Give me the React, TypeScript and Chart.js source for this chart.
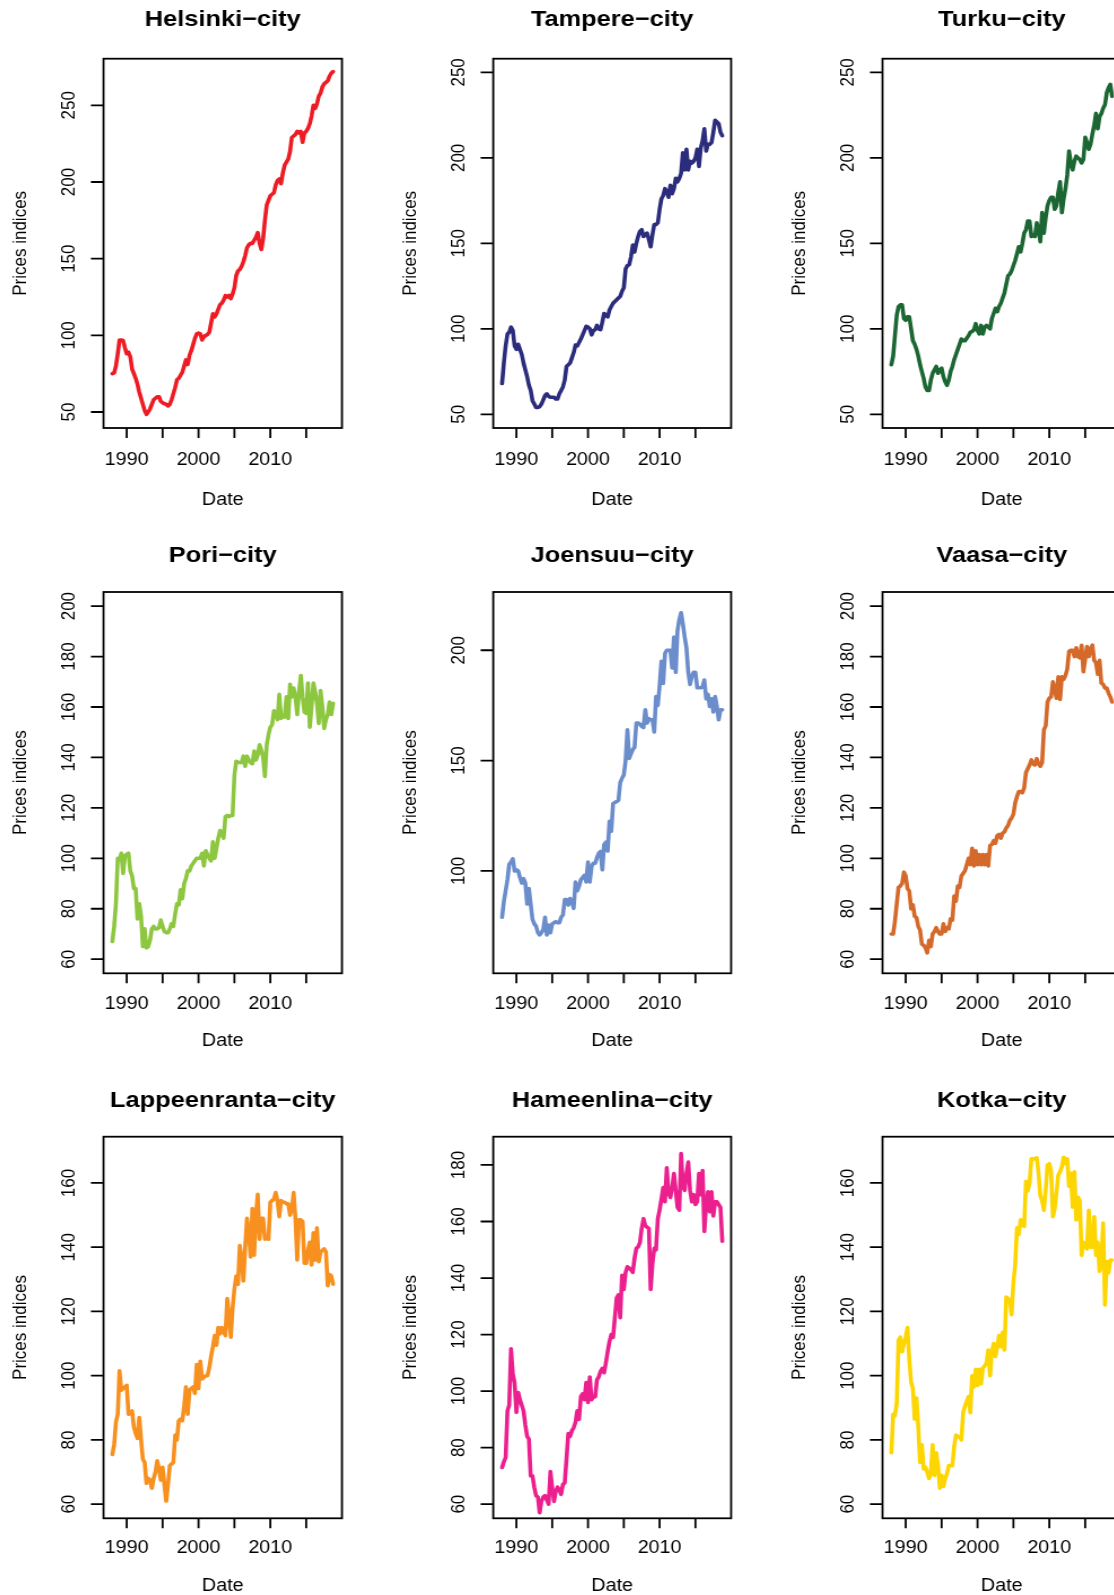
import React, { useEffect, useRef } from "react";
import { Chart, registerables } from "chart.js";

Chart.register(...registerables);

// Quarterly time index: ts(start = 1988 Q1, frequency = 4), 124 quarters
const START_YEAR = 1988;
const FREQUENCY = 4;
const N_QUARTERS = 124;
const dates: number[] = Array.from({ length: N_QUARTERS }, (_, i) => START_YEAR + i / FREQUENCY);

const xTickValues = [1990, 1995, 2000, 2005, 2010, 2015];
const xTickLabels = ["1990", "", "2000", "", "2010", ""];

const xAxisTitle = "Date";
const yAxisTitle = "Prices indices";

// ---- series values (one value per quarter, 1988 Q1 .. 2018 Q4) ----
const helsinki = [
  75, 75.5, 80, 88, // 1988
  97, 97, 96.5, 92, // 1989
  88, 89, 86, 78, // 1990
  75, 72, 68, 63, // 1991
  59, 55, 51, 48.5, // 1992
  50, 52, 55, 58, // 1993
  59, 60, 60, 57, // 1994
  56, 55.5, 55, 54, // 1995
  55, 58, 62, 66, // 1996
  71, 72, 74, 76, // 1997
  80, 84, 81, 87, // 1998
  90, 94, 98, 101, // 1999
  101.5, 101, 97, 99, // 2000
  100, 100.5, 102, 108, // 2001
  114, 112, 114, 117, // 2002
  120, 121, 123, 126, // 2003
  125, 126, 124, 127, // 2004
  131, 139, 142, 143, // 2005
  145, 148, 152, 157, // 2006
  159, 160, 160, 162, // 2007
  164, 167, 160, 156, // 2008
  163, 175, 185, 188, // 2009
  191, 192, 193, 198, // 2010
  201, 202, 199, 206, // 2011
  211, 213, 215, 220, // 2012
  229, 230, 231, 233, // 2013
  232, 233, 226, 232, // 2014
  233, 235, 238, 243, // 2015
  250, 248, 251, 256, // 2016
  258, 262, 264, 265, // 2017
  266, 269, 271, 272, // 2018
];

const tampere = [
  68, 80, 90, 97, // 1988
  98, 101, 99, 90, // 1989
  88, 91, 88, 85, // 1990
  80, 76, 72, 67, // 1991
  64, 58, 56, 54, // 1992
  54, 54.5, 56, 58.5, // 1993
  61, 62, 60.5, 60, // 1994
  60, 60, 59, 59, // 1995
  62, 64, 66, 70, // 1996
  78, 79, 80, 83, // 1997
  86, 90.5, 90, 92, // 1998
  94, 96.5, 99, 101.5, // 1999
  101, 100, 96.5, 99, // 2000
  99.5, 102, 100, 99.5, // 2001
  104, 109, 108, 107, // 2002
  111, 113, 115, 116, // 2003
  117, 118, 119, 122, // 2004
  124, 135, 137, 137.5, // 2005
  142, 149, 145, 150, // 2006
  154, 157, 158, 154, // 2007
  155, 156, 152, 148, // 2008
  155, 161, 161, 162, // 2009
  170, 176, 178, 182, // 2010
  180, 177, 184, 179, // 2011
  182, 188, 186, 188, // 2012
  191, 203, 193, 205, // 2013
  193, 198, 197, 198, // 2014
  200, 205, 195, 206, // 2015
  210, 217, 204, 208, // 2016
  208, 209, 215, 222, // 2017
  221, 220, 215, 213, // 2018
];

const turku = [
  79, 84, 96, 108, // 1988
  113, 114, 114, 106, // 1989
  105, 107, 107, 100, // 1990
  93, 91, 88, 84, // 1991
  79, 75, 71, 66, // 1992
  64, 64, 70, 74, // 1993
  76, 78, 74, 76, // 1994
  77, 72, 69, 67, // 1995
  70, 75, 78, 82, // 1996
  85, 88, 91, 94, // 1997
  93, 93, 94.5, 96, // 1998
  98, 98.5, 99.5, 103, // 1999
  99, 97, 102, 97, // 2000
  101, 102, 101, 100, // 2001
  106, 109, 112, 110, // 2002
  113, 115, 118, 121, // 2003
  126, 131, 132, 134, // 2004
  137, 140, 144, 148, // 2005
  145, 150, 156, 158, // 2006
  163, 163, 154, 155, // 2007
  154, 162, 158, 151, // 2008
  168, 156, 165, 172, // 2009
  175, 177, 177, 170, // 2010
  172, 180, 186, 168, // 2011
  176, 182, 190, 204, // 2012
  197, 193, 198, 201, // 2013
  200, 199, 197, 199, // 2014
  212, 209, 205, 208, // 2015
  214, 219, 226, 217, // 2016
  224, 226, 229, 231, // 2017
  238, 241, 243, 236, // 2018
];

const pori = [
  67, 73, 82, 100, // 1988
  99.5, 102, 94, 101, // 1989
  101.5, 102, 95, 93, // 1990
  88, 88, 76, 82, // 1991
  77, 65, 72, 64.5, // 1992
  65, 67.5, 72, 73, // 1993
  72, 72, 72.5, 75.5, // 1994
  73, 71, 70.5, 70.5, // 1995
  72, 74, 73, 78, // 1996
  82, 81.5, 87.5, 84, // 1997
  90, 92, 95, 95, // 1998
  97, 98, 99, 100, // 1999
  100, 100, 102, 97, // 2000
  103, 101.5, 100, 99, // 2001
  106.5, 100, 104, 108, // 2002
  111, 110, 108, 116.5, // 2003
  117, 116.5, 117, 117, // 2004
  133, 138.5, 138, 138, // 2005
  138, 140.5, 136.5, 140.5, // 2006
  139, 138, 137.5, 142.5, // 2007
  139, 141, 145, 143, // 2008
  140, 132.5, 145, 149, // 2009
  152, 153, 158.5, 157, // 2010
  155, 165, 155.5, 156.5, // 2011
  156, 164, 155.5, 169, // 2012
  164, 167.5, 164, 157, // 2013
  166, 172.5, 164, 158, // 2014
  157.5, 169.5, 152, 160, // 2015
  169.5, 166, 161.5, 153.5, // 2016
  166.5, 160, 151.5, 155, // 2017
  157, 162, 157, 161.5, // 2018
];

const joensuu = [
  79, 86, 91, 96, // 1988
  103, 104, 105.5, 100, // 1989
  100.5, 100, 97, 94.5, // 1990
  96.5, 94.5, 85, 92, // 1991
  85, 78, 76, 75, // 1992
  72, 71, 72, 73.5, // 1993
  79, 71, 75.5, 72, // 1994
  76, 76.5, 77, 76.5, // 1995
  76.5, 79, 80, 87, // 1996
  87, 84.5, 87.5, 86, // 1997
  83, 95, 91, 93, // 1998
  96, 97, 98, 95, // 1999
  104, 95, 102, 103.5, // 2000
  103.5, 106, 108, 108.8, // 2001
  100.5, 112, 113, 109, // 2002
  122.5, 118, 130.5, 131, // 2003
  131.5, 132, 140, 142, // 2004
  143.5, 150, 164, 151, // 2005
  153, 155, 156, 167, // 2006
  167, 166.5, 165.5, 165, // 2007
  173, 167, 169, 168.5, // 2008
  168.5, 163, 179, 175, // 2009
  184, 195, 185, 198.5, // 2010
  200, 200, 200, 192, // 2011
  206, 190, 209, 214, // 2012
  217, 212, 206, 201, // 2013
  190, 184.5, 188, 190, // 2014
  190, 183, 183, 183, // 2015
  183.5, 186.5, 178, 180, // 2016
  174.5, 178, 172, 179, // 2017
  174.5, 168.5, 173, 173, // 2018
];

const vaasa = [
  70, 70, 75, 82, // 1988
  88.5, 89, 90, 94.5, // 1989
  93, 88, 87, 80, // 1990
  81.5, 77, 76.5, 73, // 1991
  71.5, 66, 65.5, 64.5, // 1992
  62.5, 67.5, 65, 70, // 1993
  71, 72.5, 71, 70, // 1994
  70, 74, 71, 72.5, // 1995
  72, 76, 75.5, 85, // 1996
  83, 89, 88.5, 93, // 1997
  94, 95, 97.5, 100, // 1998
  97.5, 104, 97, 103, // 1999
  97.5, 101.5, 97.5, 101.5, // 2000
  97.5, 101.5, 97, 105, // 2001
  105.5, 107, 106, 109, // 2002
  109.5, 108, 110, 110.5, // 2003
  112, 113, 115, 116, // 2004
  117.5, 122, 124.5, 126.5, // 2005
  126.5, 126, 128, 134, // 2006
  135.5, 137, 139, 137.5, // 2007
  137, 139.5, 137.5, 136.5, // 2008
  138, 151, 152.5, 162, // 2009
  163.5, 164, 170, 167, // 2010
  163.5, 172, 163, 172, // 2011
  171, 172.5, 175, 182, // 2012
  182.5, 182.5, 180, 183.5, // 2013
  180, 179.5, 184.5, 174, // 2014
  179, 184, 180, 183, // 2015
  184.5, 178.5, 177.5, 173, // 2016
  178.5, 169.5, 169, 167.5, // 2017
  167.5, 165.5, 164, 162, // 2018
];

const lappeenranta = [
  75.5, 78.5, 85.5, 88, // 1988
  101.5, 95.5, 96, 96.5, // 1989
  97, 88, 88.5, 89, // 1990
  84, 82, 80.5, 87, // 1991
  80, 74, 73, 66.5, // 1992
  68, 67.5, 65, 68, // 1993
  70, 73.5, 71, 67.5, // 1994
  71.5, 66, 61, 66, // 1995
  72, 72.5, 73, 81.5, // 1996
  80, 86, 86.5, 86, // 1997
  90.5, 96.5, 88, 95.5, // 1998
  96, 96.5, 94.5, 103.5, // 1999
  96, 104.5, 99, 99.5, // 2000
  100, 100, 102.5, 106, // 2001
  109, 112.5, 109.5, 115, // 2002
  113, 115, 113.5, 112.5, // 2003
  124, 119, 112, 121, // 2004
  127, 131, 128.5, 140.5, // 2005
  136.5, 129.5, 140, 149, // 2006
  145, 137, 152, 137.5, // 2007
  150, 156.5, 142.5, 149, // 2008
  149, 142.5, 143, 142.5, // 2009
  154, 154.5, 155, 157, // 2010
  154.5, 149.5, 154.5, 154, // 2011
  154, 153.5, 153.5, 150, // 2012
  152, 157, 149, 136, // 2013
  148.5, 148.5, 148, 135, // 2014
  135, 139, 141.5, 134.5, // 2015
  144.5, 136, 146, 135.5, // 2016
  138.5, 139, 139.5, 138.5, // 2017
  128, 131.5, 131, 128.5, // 2018
];

const hameenlina = [
  73, 75, 76.5, 93, // 1988
  95, 115, 106, 103, // 1989
  92.5, 99.5, 97, 95, // 1990
  93, 88, 84, 83, // 1991
  70, 70, 66, 63, // 1992
  62.5, 57, 61, 62.5, // 1993
  63, 61.5, 60, 71.5, // 1994
  66, 61, 64.5, 66, // 1995
  65, 63.5, 67, 67.5, // 1996
  76, 85, 84, 86, // 1997
  87, 89, 93, 90, // 1998
  98, 99, 97, 103, // 1999
  96, 105, 97, 98, // 2000
  98, 104, 105, 107, // 2001
  108, 106.5, 110, 114, // 2002
  117.5, 120, 119, 126, // 2003
  133, 134, 126, 141, // 2004
  136, 142, 144, 143.5, // 2005
  143, 142, 147, 150.5, // 2006
  151, 152.5, 157.5, 161, // 2007
  158.5, 158, 157.5, 136, // 2008
  145, 150.5, 150, 161, // 2009
  164, 168, 172, 167, // 2010
  179, 170, 168.5, 172, // 2011
  177, 171, 165, 164, // 2012
  184, 172.5, 171, 177, // 2013
  181, 171, 167, 169.5, // 2014
  166, 167, 177, 169.5, // 2015
  178, 156.5, 166, 170.5, // 2016
  163.5, 170.5, 162, 167, // 2017
  167, 166, 165, 153, // 2018
];

const kotka = [
  76, 88, 87.5, 91.5, // 1988
  111, 112, 107.5, 110, // 1989
  112, 115, 105, 98, // 1990
  96, 86.5, 93, 84, // 1991
  73, 78.5, 71, 71.5, // 1992
  70, 68, 69.5, 78.5, // 1993
  69, 76, 72, 65, // 1994
  69, 65.5, 68, 69.5, // 1995
  72, 72, 72, 78, // 1996
  81.5, 81, 81, 80, // 1997
  88.5, 90.5, 92, 93.5, // 1998
  88.5, 100, 96.5, 102, // 1999
  97, 102, 97.5, 102.5, // 2000
  103, 104, 108, 100, // 2001
  107.5, 110, 106, 109, // 2002
  112.5, 109, 113.5, 108, // 2003
  124.5, 124, 123.5, 119, // 2004
  129, 134.5, 146, 144, // 2005
  148.5, 147, 146.5, 160.5, // 2006
  157.5, 160, 167.5, 167.5, // 2007
  167.5, 167.8, 163, 156, // 2008
  154.5, 151.5, 158, 165.5, // 2009
  166, 163.5, 149.5, 152, // 2010
  157, 162.5, 163.5, 165, // 2011
  168, 166, 167.5, 159, // 2012
  163, 152.5, 163.5, 148.5, // 2013
  155.5, 154.5, 137.5, 141.5, // 2014
  141, 139.5, 151.5, 140, // 2015
  140, 149.5, 137.5, 141.5, // 2016
  132.5, 135.5, 147.5, 122, // 2017
  135.5, 132, 136, 136, // 2018
];

// ---- panels ----
type PanelDef = {
  title: string;
  values: number[];
  color: string;
  ylim: [number, number];
  yTicks: number[];
  row: number;
  col: number;
};

const panels: PanelDef[] = [
  { title: "Helsinki\u2212city", values: helsinki, color: "#ED1C24", ylim: [48.5, 271.5], yTicks: [50, 100, 150, 200, 250], row: 0, col: 0 },
  { title: "Tampere\u2212city", values: tampere, color: "#2B2D7C", ylim: [50, 250], yTicks: [50, 100, 150, 200, 250], row: 0, col: 1 },
  { title: "Turku\u2212city", values: turku, color: "#1B6633", ylim: [50, 250], yTicks: [50, 100, 150, 200, 250], row: 0, col: 2 },
  { title: "Pori\u2212city", values: pori, color: "#8DC63F", ylim: [60, 200], yTicks: [60, 80, 100, 120, 140, 160, 180, 200], row: 1, col: 0 },
  { title: "Joensuu\u2212city", values: joensuu, color: "#6B8DCB", ylim: [60, 220], yTicks: [100, 150, 200], row: 1, col: 1 },
  { title: "Vaasa\u2212city", values: vaasa, color: "#D4692A", ylim: [60, 200], yTicks: [60, 80, 100, 120, 140, 160, 180, 200], row: 1, col: 2 },
  { title: "Lappeenranta\u2212city", values: lappeenranta, color: "#F7901E", ylim: [60, 170], yTicks: [60, 80, 100, 120, 140, 160], row: 2, col: 0 },
  { title: "Hameenlina\u2212city", values: hameenlina, color: "#EB1F8E", ylim: [60, 185], yTicks: [60, 80, 100, 120, 140, 160, 180], row: 2, col: 1 },
  { title: "Kotka\u2212city", values: kotka, color: "#FDD500", ylim: [60, 170], yTicks: [60, 80, 100, 120, 140, 160], row: 2, col: 2 },
];

// ---- layout (page px) ----
const PANEL_W = 389.6;
const BITMAP_W = 345;
const SX = PANEL_W / BITMAP_W; // horizontal stretch of the original figure
const COL_LEFT = [0, 389.9, 779.3];
const BOX_LEFT = 103.4;
const BOX_W = 238.2;
const ROWS = [
  { top: 0, height: 520, boxTop: 58.7, boxBottom: 428, titleBase: 25.7, tickBase: 465, dateBase: 505 },
  { top: 520, height: 540, boxTop: 592, boxBottom: 973.3, titleBase: 561.7, tickBase: 1009, dateBase: 1045.7 },
  { top: 1060, height: 535, boxTop: 1136.7, boxBottom: 1518.3, titleBase: 1106.7, tickBase: 1552.7, dateBase: 1590.7 },
];
const X_TICK_LEN = 10;
const Y_TICK_LEN = 12.6 / SX;
const Y_LABEL_GAP = 28.5 / SX;
const Y_TITLE_GAP = 77.4 / SX;
const FONT = '"Liberation Sans", Arimo, Arial, Helvetica, sans-serif';

const R_PAD = 0.04;
const extend = (lo: number, hi: number): [number, number] => {
  const d = (hi - lo) * R_PAD;
  return [lo - d, hi + d];
};

function makeAxesPlugin(p: PanelDef) {
  const row = ROWS[p.row];
  return {
    id: "rAxes",
    afterDraw(chart: any) {
      const { ctx, chartArea: a, scales } = chart;
      const xs = scales.x;
      const ys = scales.y;
      ctx.save();
      ctx.strokeStyle = "#000";
      ctx.fillStyle = "#000";
      ctx.lineWidth = 1.8;
      ctx.lineCap = "butt";
      ctx.strokeRect(a.left, a.top, a.right - a.left, a.bottom - a.top);
      ctx.beginPath();
      xTickValues.forEach((v) => {
        const x = xs.getPixelForValue(v);
        ctx.moveTo(x, a.bottom);
        ctx.lineTo(x, a.bottom + X_TICK_LEN);
      });
      p.yTicks.forEach((v) => {
        const y = ys.getPixelForValue(v);
        ctx.moveTo(a.left, y);
        ctx.lineTo(a.left - Y_TICK_LEN, y);
      });
      ctx.stroke();

      const cx = (a.left + a.right) / 2;
      const cy = (a.top + a.bottom) / 2;
      ctx.textAlign = "center";
      ctx.textBaseline = "alphabetic";

      ctx.font = `17.5px ${FONT}`;
      xTickValues.forEach((v, i) => {
        if (xTickLabels[i]) ctx.fillText(xTickLabels[i], xs.getPixelForValue(v), row.tickBase - row.top);
      });
      ctx.fillText(xAxisTitle, cx, row.dateBase - row.top);

      ctx.font = `bold 22.5px ${FONT}`;
      ctx.fillText(p.title, cx, row.titleBase - row.top);

      ctx.font = `17px ${FONT}`;
      p.yTicks.forEach((v) => {
        const y = ys.getPixelForValue(v);
        ctx.save();
        ctx.translate(a.left - Y_LABEL_GAP, y);
        ctx.rotate(-Math.PI / 2);
        ctx.fillText(String(v), 0, 0);
        ctx.restore();
      });
      ctx.save();
      ctx.translate(a.left - Y_TITLE_GAP, cy);
      ctx.rotate(-Math.PI / 2);
      ctx.fillText(yAxisTitle, 0, 0);
      ctx.restore();

      ctx.restore();
    },
  };
}

function Panel({ p }: { p: PanelDef }) {
  const ref = useRef<HTMLCanvasElement | null>(null);
  const row = ROWS[p.row];
  useEffect(() => {
    const canvas = ref.current;
    if (!canvas) return;
    const [xMin, xMax] = extend(dates[0], dates[dates.length - 1]);
    const [yMin, yMax] = extend(p.ylim[0], p.ylim[1]);
    const padLeft = BOX_LEFT / SX;
    const padRight = BITMAP_W - (BOX_LEFT + BOX_W) / SX;
    const padTop = row.boxTop - row.top;
    const padBottom = row.height - (row.boxBottom - row.top);
    const chart = new Chart(canvas, {
      type: "line",
      data: {
        datasets: [
          {
            data: dates.map((d, i) => ({ x: d, y: p.values[i] })),
            borderColor: p.color,
            backgroundColor: p.color,
            borderWidth: 3.6,
            pointRadius: 0,
            tension: 0,
            fill: false,
            borderJoinStyle: "round",
            borderCapStyle: "round",
          },
        ],
      },
      options: {
        responsive: false,
        animation: false,
        devicePixelRatio: 1,
        events: [],
        layout: { padding: { left: padLeft, right: padRight, top: padTop, bottom: padBottom } },
        plugins: { legend: { display: false }, tooltip: { enabled: false }, title: { display: false } },
        scales: {
          x: { type: "linear", display: false, min: xMin, max: xMax, bounds: "data" },
          y: { type: "linear", display: false, min: yMin, max: yMax, bounds: "data" },
        },
      },
      plugins: [makeAxesPlugin(p)],
    } as any);
    return () => chart.destroy();
  }, [p]);

  return (
    <canvas
      ref={ref}
      width={BITMAP_W}
      height={row.height}
      style={{
        position: "absolute",
        left: `${COL_LEFT[p.col]}px`,
        top: `${row.top}px`,
        width: `${PANEL_W}px`,
        height: `${row.height}px`,
      }}
    />
  );
}

export default function App() {
  return (
    <div
      style={{
        position: "absolute",
        left: 0,
        top: 0,
        width: "1114px",
        height: "1595px",
        overflow: "hidden",
        background: "#ffffff",
      }}
    >
      {panels.map((p) => (
        <Panel key={p.title} p={p} />
      ))}
    </div>
  );
}
